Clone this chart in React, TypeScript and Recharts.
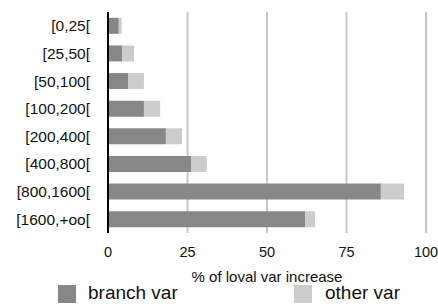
import React from 'react';
import { BarChart, Bar, XAxis, YAxis, CartesianGrid, Legend } from 'recharts';

const categories = ['[0,25[', '[25,50[', '[50,100[', '[100,200[', '[200,400[', '[400,800[', '[800,1600[', '[1600,+oo['];
const branchVar = [3.4, 4.4, 6.3, 11.3, 18.2, 26.1, 85.8, 62.0];
const otherVar = [0.9, 3.8, 5.0, 5.1, 5.1, 5.0, 7.3, 3.1];
const xTicks = [0, 25, 50, 75, 100];

const BRANCH = '#878787';
const OTHER = '#cccccc';
const FONT = '"Liberation Sans", Arial, Helvetica, sans-serif';

const data = categories.map((c, i) => ({ name: c, branch: branchVar[i], other: otherVar[i] }));

const renderLegend = () => (
  <div style={{ position: 'relative', width: 438, height: 21, fontFamily: FONT, fontSize: 19, color: '#111' }}>
    <div style={{ position: 'absolute', left: 58, top: 2, width: 18, height: 18, background: BRANCH }} />
    <div style={{ position: 'absolute', left: 88, top: -1, lineHeight: '22px' }}>branch var</div>
    <div style={{ position: 'absolute', left: 294, top: 2, width: 18, height: 18, background: OTHER }} />
    <div style={{ position: 'absolute', left: 325, top: -1, lineHeight: '22px' }}>other var</div>
  </div>
);

export default function App() {
  return (
    <div style={{ position: 'absolute', left: 0, top: 0, background: '#fff' }}>
      <BarChart
        width={438}
        height={304}
        data={data}
        layout="vertical"
        margin={{ top: 12, right: 12, bottom: 0, left: 0 }}
        barCategoryGap="21%"
      >
        <CartesianGrid horizontal={false} stroke="#c8c8c8" strokeWidth={2} />
        <XAxis
          type="number"
          domain={[0, 100]}
          ticks={xTicks}
          axisLine={false}
          tickLine={false}
          tickMargin={8}
          height={50}
          tick={{ fill: '#111', fontSize: 14.5, fontFamily: FONT }}
          label={{ value: '% of loval var increase', position: 'insideBottom', offset: 1, fill: '#111', fontSize: 15, fontFamily: FONT }}
        />
        <YAxis
          type="category"
          dataKey="name"
          width={108}
          axisLine={{ stroke: '#000', strokeWidth: 2 }}
          tickLine={false}
          tickMargin={12}
          tick={{ fill: '#111', fontSize: 15.5, fontFamily: FONT }}
        />
        <Legend verticalAlign="bottom" height={21} content={renderLegend} />
        <Bar dataKey="branch" stackId="a" fill={BRANCH} isAnimationActive={false} />
        <Bar dataKey="other" stackId="a" fill={OTHER} isAnimationActive={false} />
      </BarChart>
    </div>
  );
}
